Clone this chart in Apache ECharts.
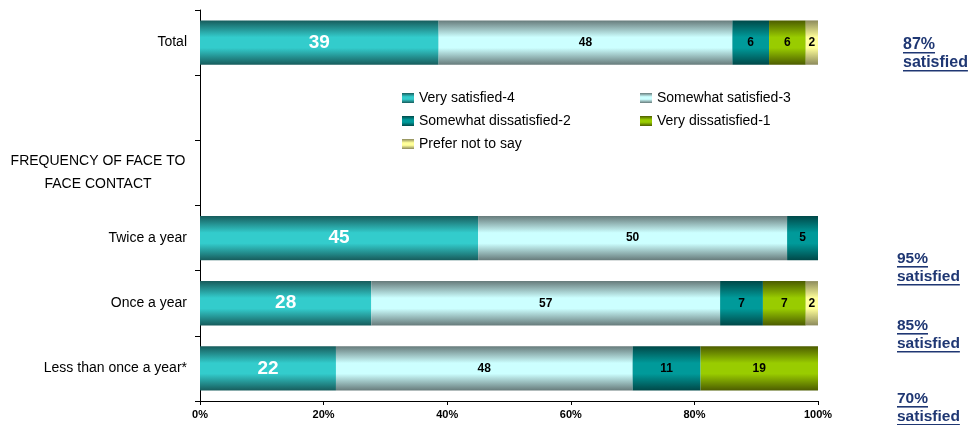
<!DOCTYPE html>
<html>
<head>
<meta charset="utf-8">
<script src="https://cdn.jsdelivr.net/npm/echarts@6/dist/echarts.min.js"></script>
<style>
  html, body { margin: 0; padding: 0; background: #ffffff; }
  #chart { width: 970px; height: 425px; }
</style>
</head>
<body>
<div id="chart"></div>
<script>
// Rows of the chart, top to bottom (blank row and a section heading included)
const categories = [
  'Total',
  '',
  'FREQUENCY OF FACE TO\nFACE CONTACT',
  'Twice a year',
  'Once a year',
  'Less than once a year*'
];
const HEADING_ROW = 2;

// Percentages per rating, one entry per row (null = no bar)
const verySatisfied        = [39, null, null, 45, 28, 22];
const somewhatSatisfied    = [48, null, null, 50, 57, 48];
const somewhatDissatisfied = [6,  null, null, 5,  7,  11];
const veryDissatisfied     = [6,  null, null, null, 7, 19];
const preferNotToSay       = [2,  null, null, null, 2, null];

const seriesNames = [
  'Very satisfied-4',
  'Somewhat satisfied-3',
  'Somewhat dissatisfied-2',
  'Very dissatisfied-1',
  'Prefer not to say'
];
const axisTicks = [0, 20, 40, 60, 80, 100];

const allValues = [verySatisfied, somewhatSatisfied, somewhatDissatisfied, veryDissatisfied, preferNotToSay];

// Rows whose satisfied total is noted at the right, with each note's placement
const noteRows = [0, 3, 4, 5];
const noteLayout = [
  { x: 903, baseline: 50, size: 16 },
  { x: 897, baseline: 264, size: 15.5 },
  { x: 897, baseline: 331, size: 15.5 },
  { x: 897, baseline: 404, size: 15.5 }
];

const FONT = "'Liberation Sans', Arial, sans-serif";

// Dark-light-dark horizontal banding used on every bar
function band(edge, mid) {
  return new echarts.graphic.LinearGradient(0, 0, 0, 1, [
    { offset: 0, color: edge },
    { offset: 0.38, color: mid },
    { offset: 0.62, color: mid },
    { offset: 1, color: edge }
  ]);
}
const fills = [
  band('#175c5c', '#33cccc'),
  band('#677b7b', '#ccffff'),
  band('#004848', '#009a9a'),
  band('#4c5c00', '#99cc00'),
  band('#8c8a5c', '#ffff99')
];

// Each row is drawn as a 100% stack
const rowTotals = categories.map((_, i) =>
  allValues.reduce((s, arr) => s + (arr[i] == null ? 0 : arr[i]), 0));

const series = allValues.map((arr, k) => ({
  name: seriesNames[k],
  type: 'bar',
  stack: 'rows',
  barCategoryGap: '32%',
  itemStyle: { color: fills[k] },
  label: {
    show: true,
    position: 'inside',
    fontFamily: FONT,
    fontWeight: 'bold',
    fontSize: k === 0 ? 19 : 12,
    color: k === 0 ? '#ffffff' : '#000000',
    formatter: p => p.data.raw
  },
  emphasis: { disabled: true },
  data: arr.map((v, i) => v == null ? null : { value: v / rowTotals[i] * 100, raw: v })
}));

// "xx% satisfied" notes, underlined
const measure = document.createElement('canvas').getContext('2d');
const NAVY = '#1f3773';
const noteGraphics = [];
noteRows.forEach((row, j) => {
  const L = noteLayout[j];
  const font = 'bold ' + L.size + 'px ' + FONT;
  measure.font = font;
  const pct = (verySatisfied[row] + somewhatSatisfied[row]) + '%';
  [pct, 'satisfied'].forEach((t, li) => {
    const base = L.baseline + li * 18;
    const w = measure.measureText(t).width;
    noteGraphics.push({
      type: 'text', left: L.x, top: base - Math.round(L.size * 0.82),
      style: { text: t, fill: NAVY, font: font }
    });
    noteGraphics.push({
      type: 'rect', left: L.x, top: base + 2,
      shape: { width: w, height: 1.6 },
      style: { fill: NAVY }
    });
  });
});

const legendText = { fontFamily: FONT, fontSize: 14, color: '#000' };

const chart = echarts.init(document.getElementById('chart'), null, { renderer: 'canvas' });
chart.setOption({
  animation: false,
  backgroundColor: '#ffffff',
  grid: { left: 200, right: 152, top: 10, bottom: 24, containLabel: false },
  legend: [
    {
      orient: 'vertical', left: 397, top: 86, itemGap: 9,
      itemWidth: 12, itemHeight: 10, icon: 'rect',
      selectedMode: false,
      data: [seriesNames[0], seriesNames[2], seriesNames[4]],
      textStyle: legendText
    },
    {
      orient: 'vertical', left: 635, top: 86, itemGap: 9,
      itemWidth: 12, itemHeight: 10, icon: 'rect',
      selectedMode: false,
      data: [seriesNames[1], seriesNames[3]],
      textStyle: legendText
    }
  ],
  xAxis: {
    type: 'value',
    min: axisTicks[0],
    max: axisTicks[axisTicks.length - 1],
    interval: axisTicks[1] - axisTicks[0],
    axisLine: { show: true, lineStyle: { color: '#000', width: 1 } },
    axisTick: { show: true, length: 4, lineStyle: { color: '#000' } },
    splitLine: { show: false },
    axisLabel: {
      margin: 8, fontFamily: FONT, fontWeight: 'bold', fontSize: 11, color: '#000',
      formatter: '{value}%'
    }
  },
  yAxis: {
    type: 'category',
    inverse: true,
    data: categories,
    axisLine: { show: true, lineStyle: { color: '#000', width: 1 } },
    axisTick: { show: true, length: 5, lineStyle: { color: '#000' } },
    axisLabel: {
      margin: 13, fontFamily: FONT, fontSize: 14, color: '#000',
      formatter: (v, i) => i === HEADING_ROW
        ? v.split('\n').map(s => '{h|' + s + '}').join('\n')
        : v,
      rich: {
        h: { width: 178, align: 'center', fontFamily: FONT, fontSize: 14, color: '#000', lineHeight: 23 }
      }
    }
  },
  graphic: noteGraphics,
  series: series
});
</script>
</body>
</html>
